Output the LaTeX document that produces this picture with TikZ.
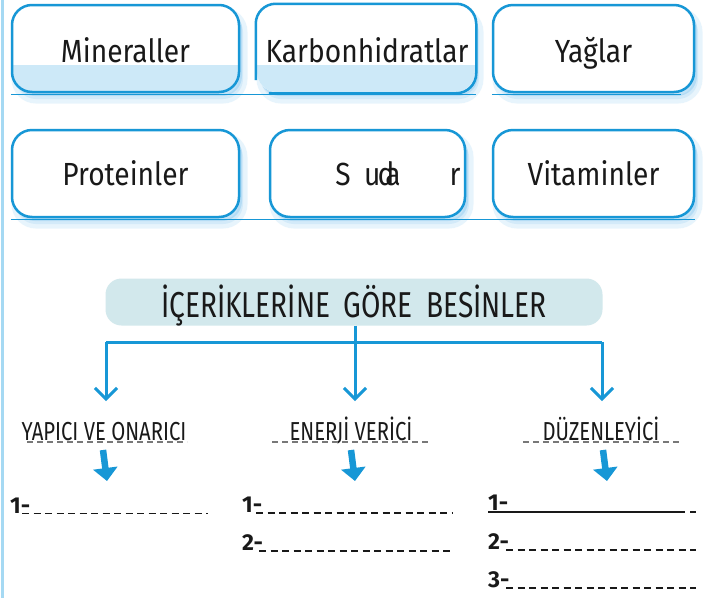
\documentclass[tikz,border=0pt]{standalone}
\usepackage{fontspec}
\setmainfont{Fira Sans}
\newfontfamily\boxfont{Fira Sans}[FakeStretch=0.88]
\newfontfamily\titlefont{Fira Sans}[FakeStretch=0.78]
\newfontfamily\handfont{Fira Sans}[FakeStretch=0.78]
\usetikzlibrary{arrows.meta}
\definecolor{mblue}{RGB}{23,151,214}
\definecolor{shblue}{RGB}{90,180,235}
\definecolor{bandblue}{RGB}{205,233,248}
\definecolor{titlefill}{RGB}{210,232,236}
\definecolor{edgeblue}{RGB}{165,217,243}
\definecolor{dashgray}{RGB}{120,120,120}
\definecolor{ink}{RGB}{25,25,25}
\tikzset{
  foodbox/.style={draw=mblue, line width=2.5pt, rounded corners=20pt, fill=white,
    inner sep=0pt, minimum width=#1, minimum height=87pt,
    preaction={fill=shblue, opacity=0.14, draw=shblue, line width=9pt,
      transform canvas={xshift=4pt,yshift=-7pt}},
    preaction={fill=shblue, opacity=0.25, transform canvas={xshift=3pt,yshift=-4pt}}},
  band/.style={path picture={\fill[bandblue, sharp corners]
      ([yshift=-16.5pt]path picture bounding box.west) rectangle
      (path picture bounding box.south east);}},
  boxtext/.style={font=\boxfont\fontsize{32}{32}\selectfont, text=ink, inner sep=0pt, anchor=base},
  sepline/.style={draw=mblue, line width=1.5pt},
  titlebox/.style={fill=titlefill, rounded corners=16pt, minimum width=497pt,
    minimum height=47pt, inner sep=0pt},
  titletext/.style={font=\titlefont\fontsize{36}{36}\selectfont, text=ink, inner sep=0pt, anchor=base},
  connline/.style={draw=mblue, line width=3pt},
  conn/.style={connline, -{Straight Barb[width=22pt,length=11pt,line width=3pt]}},
  hand/.style={font=\handfont\fontsize{26}{26}\selectfont, text=ink, inner sep=0pt, anchor=base},
  underdash/.style={draw=dashgray, line width=1.5pt, dash pattern=on 6pt off 4pt},
  fatarrow/.style={draw=mblue, line width=6.5pt, -{Triangle[width=24pt,length=13pt]}},
  num/.style={font=\bfseries\fontsize{23}{23}\selectfont, text=ink, inner sep=0pt, anchor=base west},
  writeline/.style={draw=ink, line width=1.2pt, dash pattern=on 7pt off 4.5pt},
}
\begin{document}
\begin{tikzpicture}[x=1pt,y=-1pt]
\useasboundingbox (0,0) rectangle (713,598);
\fill[white] (0,0) rectangle (713,598);
\draw[edgeblue, line width=3pt] (2.5,0) -- (2.5,598);

% row 1
\node[foodbox=227pt, band] (b1) at (125.5,48.5) {};
\node[foodbox=218pt, band, draw=none] (b2) at (366,48.5) {};
\draw[mblue, line width=2.5pt, rounded corners=20pt]
  ([yshift=-31.5pt]b2.west) -- (b2.north west) -- (b2.north east)
  -- (b2.south east) -- ([xshift=13pt]b2.south west);
\node[foodbox=201pt] (b3) at (593.5,48.5) {};
\draw[sepline] ([yshift=-1pt]b1.south west) -- ([yshift=-1pt]b2.south east);
\draw[sepline] ([yshift=-1pt]b3.south west) -- ([xshift=-14pt,yshift=-1pt]b3.south east);
\node[boxtext] (t1) at (125.5,62) {Mineraller};
\node[boxtext] (t2) at (367,62) {Karbonhidratlar};
\node[boxtext] (t3) at (593.5,62) {Yağlar};

% row 2
\node[foodbox=227pt] (b4) at (125.5,173.5) {};
\node[foodbox=195pt] (b5) at (367.5,173.5) {};
\node[foodbox=201pt] (b6) at (593.5,173.5) {};
\draw[sepline] ([yshift=-1pt]b4.south west) -- ([yshift=-1pt]b6.south east);
\node[boxtext] (t4) at (125.5,185) {Proteinler};
\node[boxtext] (t5a) at (343,185) {S};
\node[boxtext, anchor=base west] (t5b) at (364,185) {u\kern-3pt d\kern-9pt a};
\node[boxtext] (t5c) at (455,185) {r};
\node[boxtext] (t6) at (593.5,185) {Vitaminler};

% title and connectors
\node[titlebox] (title) at (354,302) {};
\node[titletext] (ttext) at (354,317) {İÇERİKLERİNE\hspace{6pt} GÖRE\hspace{6pt} BESİNLER};
\coordinate (hl) at (106,342);
\coordinate (hr) at (602,342);
\coordinate (aL) at (106,401);
\coordinate (aM) at (355,401);
\coordinate (aR) at (602,401);
\draw[connline] (hl) -- (hr);
\draw[conn] (title.south -| aM) -- (aM);
\draw[conn] (hl) -- (aL);
\draw[conn] (hr) -- (aR);

% category labels
\node[hand] (c1) at (104,440) {YAPICI VE ONARICI};
\node[hand] (c2) at (351,440) {ENERJİ VERİCİ};
\node[hand] (c3) at (601,440) {DÜZENLEYİCİ};
\draw[underdash] (27,442) -- (187,442);
\draw[underdash] (272,442) -- (428,442);
\draw[underdash] (523,442) -- (680,442);

% thick arrows
\draw[fatarrow] (103,450) -- (107,481);
\draw[fatarrow] (351,450) -- (355,481);
\draw[fatarrow] (603,450) -- (607,481);

% answer lines
\node[num] (n11) at (10,513) {1-};
\draw[writeline] (22,513.5) -- (208,513.5);
\node[num] (n21) at (242,512) {1-};
\draw[writeline] (256,513) -- (452,513);
\node[num] (n22) at (242,550) {2-};
\draw[writeline] (259,551) -- (452,551);
\node[num] (n31) at (488,510) {1-};
\draw[ink, line width=1.2pt] (488,512) -- (685,512);
\draw[ink, line width=1.2pt] (690,512) -- (696,512);
\node[num] (n32) at (488,549) {2-};
\draw[writeline] (506,550) -- (696,550);
\node[num] (n33) at (488,587) {3-};
\draw[writeline] (506,588) -- (696,588);
\end{tikzpicture}
\end{document}
